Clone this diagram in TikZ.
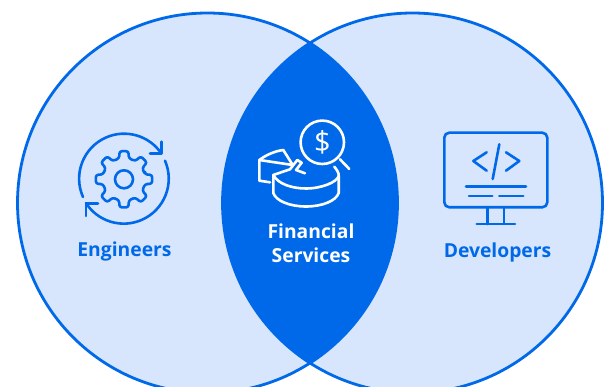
\documentclass[tikz,border=0pt]{standalone}
\usepackage{fontspec}
\setmainfont{Open Sans}
\definecolor{vennblue}{HTML}{0069EA}
\definecolor{vennpale}{HTML}{D7E6FC}
\tikzset{
    iconline/.style={
           draw=vennblue, line width=2.6pt,
           line cap=round, line join=round,
           },
}
\tikzset{
    iconwhite/.style={
           draw=white, line width=2.6pt,
           line cap=round, line join=round,
           },
}
\tikzset{
    setlabel/.style={
           text=vennblue,
           font=\fontsize{19.3}{24.5}\selectfont\bfseries,
           inner sep=0pt,
           align=center,
           },
}
\begin{document}
\begin{tikzpicture}[x=1pt,y=-1pt]
\useasboundingbox (0,0) rectangle (610,387);
\clip (0,0) rectangle (610,387);
\fill[white] (0,0) rectangle (610,387);
% sets
\fill[vennpale] (207.5,203) circle[radius=190];
\fill[vennpale] (412.5,203) circle[radius=190];
\begin{scope}
\clip (207.5,203) circle[radius=190];
\fill[vennblue] (412.5,203) circle[radius=190];
\end{scope}
\draw[vennblue,line width=2.8pt] (207.5,203) circle[radius=190];
\draw[vennblue,line width=2.8pt] (412.5,203) circle[radius=190];
% gear
\draw[iconline] (124,179.3) circle[radius=9];
\begin{scope}[shift={(124,179.3)}]
\draw[iconline,rounded corners=2.5pt] (-13:21.5)
  \foreach \a in {0,45,...,315} {
    -- (\a-13:21.5) -- (\a-9:28.5) -- (\a+9:28.5) -- (\a+13:21.5)
  } -- cycle;
\end{scope}
\draw[iconline] (83,197) arc[start angle=156,end angle=326,radius=45];
\draw[iconline] (165,160.7) arc[start angle=-23.5,end angle=147,radius=45];
\draw[iconline] (161.7,141.7) -- (161.7,153.3) -- (150,153.3);
\draw[iconline] (86,216) -- (86,203.3) -- (98,203.3);
% coin and pie
\draw[iconwhite] (322.3,142.3) circle[radius=21.7];
\node[inner sep=0pt,text=white,font=\fontsize{29}{29}\selectfont] (dollar) at (322.3,142.3) {\$};
\draw[iconwhite] (340,159.3) -- (349.3,169);
\draw[iconwhite] (259.3,160) .. controls (266,155) and (275,151) .. (283.3,150) -- (292.7,165) -- cycle;
\draw[iconwhite] (259.3,160) -- (259.3,180.7) -- (270,182.3);
\draw[iconwhite] (273.3,175) -- (290,169.3) -- (297.3,160) -- (301.7,162.7) -- (296,170) -- (305,173.3);
\draw[iconwhite] (273.3,175) .. controls (278,184) and (292,188.5) .. (306,188.5) .. controls (322,188.5) and (337,182) .. (338.7,176) .. controls (339,173) and (337,170) .. (334.3,166.7);
\draw[iconwhite] (273.3,175) -- (273.3,193) .. controls (276,201) and (290,206.5) .. (306,206.5) .. controls (322,206.5) and (336,201) .. (338.7,193) -- (338.7,176);
% monitor
\draw[iconline,rounded corners=5pt] (444.3,132.7) rectangle (547.3,207.3);
\draw[iconline] (487.7,207.3) -- (487.7,224);
\draw[iconline] (504,207.3) -- (504,224);
\draw[iconline] (476.7,224) -- (515,224);
\draw[iconline] (486.7,152.3) -- (473.3,161) -- (486.7,170.7);
\draw[iconline] (506,152.3) -- (519.3,161) -- (506,170.7);
\draw[iconline] (499.3,144.3) -- (492.7,179);
\draw[iconline] (466,186.7) -- (526,186.7);
\draw[iconline] (469,196) -- (492.3,196);
\draw[iconline] (499.3,196) -- (523.3,196);
% labels
\node[setlabel] (engineers) at (124.5,251) {Engineers};
\node[setlabel] (developers) at (497.5,252) {Developers};
\node[setlabel,text=white] (financial) at (311,243.5) {Financial\\Services};
\end{tikzpicture}
\end{document}
